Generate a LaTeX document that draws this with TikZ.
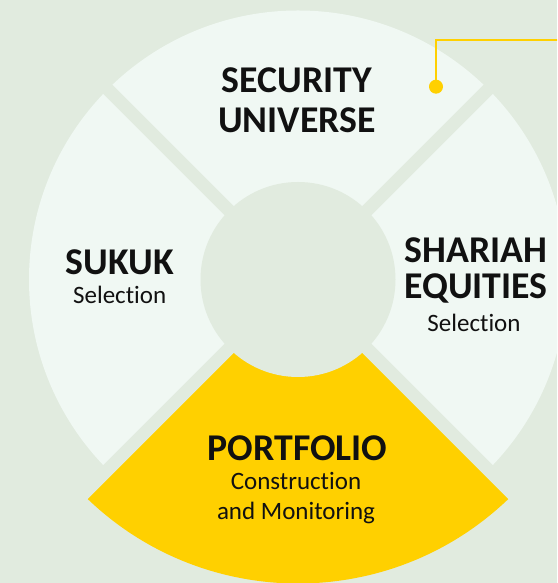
\documentclass[tikz,border=0pt]{standalone}
\usepackage{fontspec}
\setmainfont{Carlito}[Ligatures=NoCommon]
\definecolor{bgcol}{HTML}{E1EBDF}
\definecolor{segcol}{HTML}{F0F8F3}
\definecolor{eyyellow}{HTML}{FFD000}
\definecolor{inkcol}{HTML}{111111}

\begin{document}
\begin{tikzpicture}[x=1pt,y=1pt,
    title/.style={font=\fontsize{37.8}{39.6}\selectfont\bfseries, text=inkcol,
      align=center, anchor=base, inner sep=0pt},
    sub/.style={font=\fontsize{25}{30}\selectfont, text=inkcol,
      align=center, anchor=base, inner sep=0pt}]
  \useasboundingbox (0,0) rectangle (557,583);
  \clip (0,0) rectangle (557,583);
  \fill[bgcol] (0,0) rectangle (557,583);
  \coordinate (c) at (298,303.5);
  % ring
  \fill[segcol] (c) circle (269);
  \fill[eyyellow] (c) -- ++(225:304) arc (225:315:304) -- cycle;
  \foreach \a in {45,135,225,315}
    \draw[bgcol, line width=13pt] (c) -- ++(\a:330);
  \fill[bgcol] (c) circle (97.5);
  % labels
  \node[title] (universe) at (297,450.7) {SECURITY\\UNIVERSE};
  \node[title] (sukuk) at (119.7,308) {SUKUK};
  \node[sub] (sukuksel) at (119.7,279) {Selection};
  \node[title, font=\fontsize{37.8}{36}\selectfont\bfseries] (equities) at (476,284.3) {SHARIAH\\EQUITIES};
  \node[sub] (equitiessel) at (474,251.3) {Selection};
  \node[title] (portfolio) at (297.5,122.3) {PORTFOLIO};
  \node[sub] (portfoliosub) at (296,63) {Construction\\and Monitoring};
  % callout
  \node[circle, fill=eyyellow, minimum size=14pt, inner sep=0pt] (dot) at (436,496.3) {};
  \coordinate (bend) at (436,543);
  \coordinate (out) at (560,543);
  \draw[eyyellow, line width=1.7pt] (dot.center) -- (bend) -- (out);
\end{tikzpicture}
\end{document}
